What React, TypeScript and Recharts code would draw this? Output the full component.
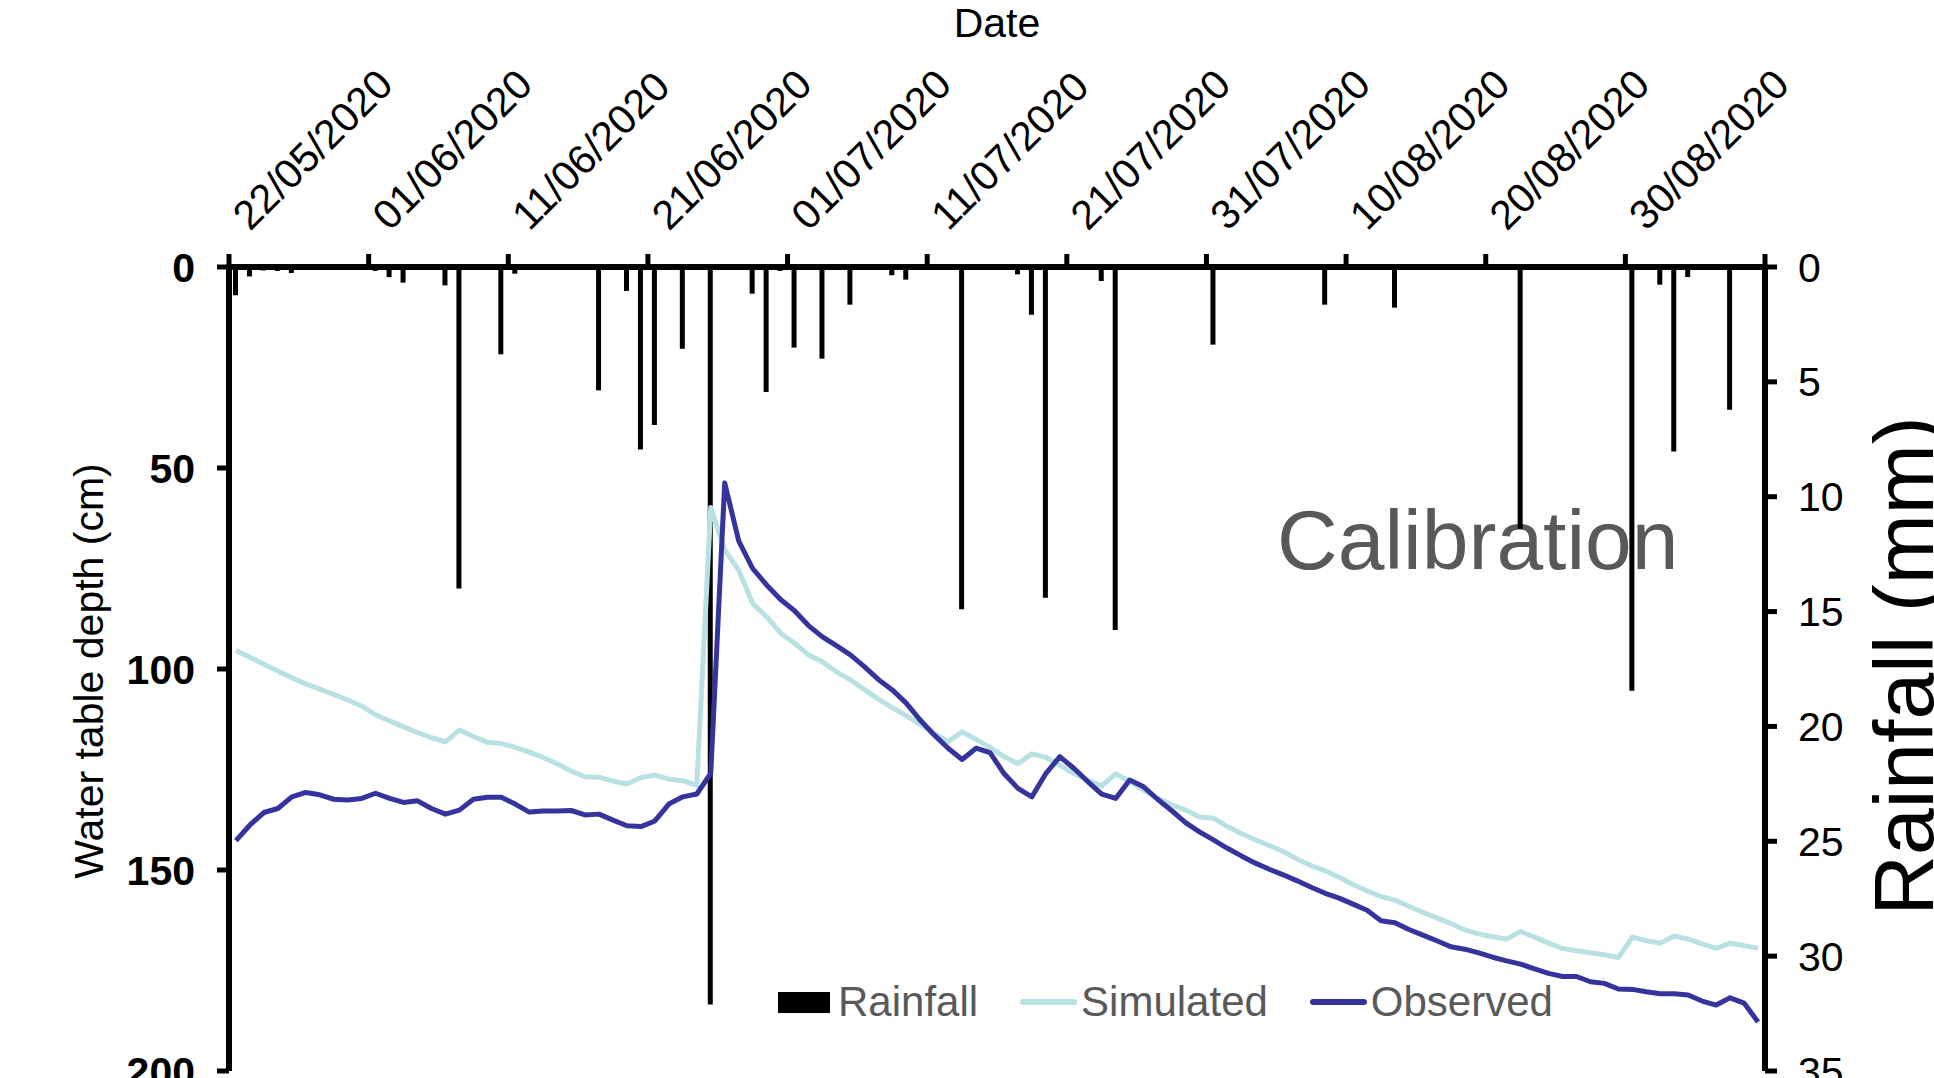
import React from 'react';
import { ComposedChart, Bar, Line, XAxis, YAxis, Legend, Label, Customized } from 'recharts';

const FONT = "'Liberation Sans', Arial, Helvetica, sans-serif";

const START_DATE = Date.UTC(2020, 4, 22);
const DAY_MS = 86400000;
const DAY_COUNT = 110;
const END_DATE = START_DATE + DAY_COUNT * DAY_MS;

const fmtDate = (ts: number) => {
  const d = new Date(ts);
  const dd = String(d.getUTCDate()).padStart(2, '0');
  const mm = String(d.getUTCMonth() + 1).padStart(2, '0');
  return `${dd}/${mm}/${d.getUTCFullYear()}`;
};

// categories: one per day, 22/05/2020 .. 08/09/2020
const dates: string[] = Array.from({ length: DAY_COUNT }, (_, i) => fmtDate(START_DATE + i * DAY_MS));

// Rainfall (mm), daily
const rainfall = [
  1.23, 0.41, 0.15, 0.17, 0.26, 0, 0, 0, 0, 0,
  0.17, 0.44, 0.68, 0, 0, 0.8, 14.0, 0, 0, 3.8,
  0.29, 0, 0, 0, 0, 0, 5.37, 0, 1.04, 7.95,
  6.88, 0, 3.56, 0, 32.1, 0, 0, 1.16, 5.44, 0.17,
  3.51, 0, 3.99, 0, 1.64, 0, 0, 0.36, 0.55, 0,
  0, 0, 14.9, 0, 0, 0, 0.32, 2.08, 14.4, 0,
  0, 0, 0.61, 15.8, 0, 0, 0, 0, 0, 0,
  3.38, 0, 0, 0, 0, 0, 0, 0, 1.64, 0,
  0, 0, 0, 1.77, 0, 0, 0, 0, 0, 0,
  0, 0, 11.4, 0, 0, 0, 0, 0, 0.1, 0,
  18.45, 0, 0.77, 8.03, 0.44, 0, 0, 6.21, 0, 0,
];

// Simulated water table depth (cm)
const simulated = [
  95.4, 97.1, 98.8, 100.5, 102.2, 103.7, 105.0, 106.3, 107.7, 109.2,
  111.4, 112.9, 114.4, 115.8, 117.1, 118.1, 115.2, 116.8, 118.2, 118.5,
  119.5, 120.7, 122.0, 123.6, 125.4, 126.8, 126.9, 127.9, 128.6, 127.0,
  126.4, 127.4, 127.8, 128.9, 59.8, 70.4, 75.4, 83.7, 87.0, 91.1,
  93.6, 96.5, 98.2, 100.7, 102.7, 105.1, 107.5, 109.6, 111.6, 113.8,
  116.0, 118.1, 115.6, 117.5, 119.5, 121.8, 123.5, 121.1, 122.0, 123.9,
  126.0, 127.6, 129.1, 126.1, 128.0, 130.1, 132.2, 133.7, 135.1, 136.8,
  137.1, 139.2, 140.9, 142.5, 143.9, 145.4, 147.3, 148.9, 150.2, 151.8,
  153.6, 155.2, 156.6, 157.5, 159.0, 160.5, 161.9, 163.3, 164.9, 165.9,
  166.6, 167.2, 165.3, 166.7, 168.2, 169.5, 170.1, 170.6, 171.1, 171.8,
  166.7, 167.6, 168.2, 166.4, 167.2, 168.4, 169.5, 168.2, 168.8, 169.5,
];

// Observed water table depth (cm)
const observed = [
  142.7, 138.8, 135.7, 134.7, 131.8, 130.7, 131.3, 132.4, 132.6, 132.2,
  130.9, 132.2, 133.2, 132.8, 134.7, 136.1, 135.1, 132.4, 131.9, 131.9,
  133.6, 135.6, 135.3, 135.3, 135.2, 136.3, 136.1, 137.6, 139.0, 139.2,
  137.8, 133.6, 131.8, 131.1, 126.0, 53.7, 68.1, 75.0, 79.1, 82.7,
  85.5, 89.2, 92.0, 94.2, 96.5, 99.4, 102.6, 105.2, 108.5, 112.7,
  116.4, 119.7, 122.5, 119.7, 120.8, 126.0, 129.7, 131.8, 126.0, 121.8,
  124.7, 128.0, 131.1, 132.2, 127.6, 129.3, 132.4, 135.2, 138.2, 140.5,
  142.5, 144.6, 146.5, 148.3, 149.8, 151.2, 152.7, 154.3, 155.8, 157.0,
  158.5, 160.0, 162.6, 163.1, 164.8, 166.2, 167.6, 169.1, 169.7, 170.6,
  171.7, 172.6, 173.4, 174.6, 175.7, 176.5, 176.5, 177.8, 178.2, 179.6,
  179.7, 180.3, 180.8, 180.8, 181.1, 182.6, 183.6, 181.8, 183.1, 187.8,
];

// axis ticks
const tickDays = [0, 10, 20, 30, 40, 50, 60, 70, 80, 90, 100, 110];
const dateTicks = tickDays.map((d) => START_DATE + d * DAY_MS);
const depthTicks = [0, 50, 100, 150, 200];
const rainTicks = [0, 5, 10, 15, 20, 25, 30, 35];

const legendOrder = ['Rainfall', 'Simulated', 'Observed'];

const COLORS = {
  rain: '#000000',
  simulated: '#B9E0E3',
  observed: '#34349C',
  legendText: '#595959',
  annot: '#595959',
};

// each day is plotted in the middle of its date slot
const data = dates.map((date, i) => ({
  date,
  t: START_DATE + (i + 0.5) * DAY_MS,
  rainfall: rainfall[i],
  simulated: simulated[i],
  observed: observed[i],
}));

const TopTick = (props: any) => {
  const { x, y, payload } = props;
  if (payload.value >= END_DATE) return <g />;
  const ax = x + 21;
  const ay = y;
  return (
    <text
      x={ax}
      y={ay}
      transform={`rotate(-45 ${ax} ${ay})`}
      textAnchor="start"
      fontSize={41}
      fontFamily={FONT}
      fill="#000"
    >
      {fmtDate(payload.value)}
    </text>
  );
};

const DateTitle = (props: any) => {
  const vb = props.viewBox || { x: 229, y: 207, width: 1536, height: 60 };
  return (
    <text x={vb.x + vb.width / 2} y={37} textAnchor="middle" fontSize={41} fontFamily={FONT} fill="#000">
      Date
    </text>
  );
};

const DepthTitle = (props: any) => {
  const vb = props.viewBox || { x: 109, y: 267, width: 120, height: 804 };
  const x = vb.x - 6;
  const y = vb.y + vb.height / 2 + 2;
  return (
    <text x={x} y={y} transform={`rotate(-90 ${x} ${y})`} textAnchor="middle" fontSize={41} fontFamily={FONT} fill="#000">
      Water table depth (cm)
    </text>
  );
};

const RainTitle = (props: any) => {
  const vb = props.viewBox || { x: 1765, y: 267, width: 100, height: 804 };
  const x = vb.x + 168;
  const y = vb.y + vb.height / 2 - 3;
  return (
    <text x={x} y={y} transform={`rotate(-90 ${x} ${y})`} textAnchor="middle" fontSize={84} fontFamily={FONT} fill="#000">
      Rainfall (mm)
    </text>
  );
};

const CalibrationText = () => (
  <text x={1277} y={569} textAnchor="start" fontSize={84} fontFamily={FONT} fill={COLORS.annot}>
    Calibration
  </text>
);

const LegendContent = (props: any) => {
  const payload: any[] = (props.payload || []).slice();
  payload.sort((a, b) => legendOrder.indexOf(a.value) - legendOrder.indexOf(b.value));
  return (
    <div
      style={{
        display: 'flex',
        alignItems: 'center',
        height: 42,
        lineHeight: '42px',
        fontSize: 42,
        fontFamily: FONT,
        color: COLORS.legendText,
        whiteSpace: 'nowrap',
      }}
    >
      {payload.map((entry, i) => (
        <div key={entry.value} style={{ display: 'flex', alignItems: 'center', marginLeft: i === 0 ? 0 : 42 }}>
          {entry.type === 'rect' ? (
            <span style={{ display: 'inline-block', width: 52, height: 21, background: entry.color }} />
          ) : (
            <span style={{ display: 'inline-block', width: 57, height: 6, borderRadius: 3, background: entry.color }} />
          )}
          <span style={{ marginLeft: entry.type === 'rect' ? 8 : 4 }}>{entry.value}</span>
        </div>
      ))}
    </div>
  );
};

export default function App() {
  return (
    <div style={{ position: 'absolute', left: 0, top: 0, width: 1934, height: 1078, overflow: 'hidden', background: '#fff' }}>
      <ComposedChart width={1934} height={1078} data={data} margin={{ top: 207, right: 69, bottom: 7, left: 109 }}>
        <XAxis
          xAxisId="date"
          orientation="top"
          type="number"
          dataKey="t"
          domain={[START_DATE, END_DATE]}
          allowDataOverflow
          ticks={dateTicks}
          interval={0}
          height={60}
          tick={<TopTick />}
          tickSize={13}
          tickMargin={22}
          axisLine={{ stroke: '#000', strokeWidth: 6 }}
          tickLine={{ stroke: '#000', strokeWidth: 5 }}
        >
          <Label content={<DateTitle />} />
        </XAxis>
        <YAxis
          yAxisId="depth"
          orientation="left"
          type="number"
          domain={[0, 200]}
          reversed
          allowDataOverflow
          ticks={depthTicks}
          interval={0}
          width={120}
          tickSize={12}
          tickMargin={22}
          tick={{ fontSize: 41, fontWeight: 'bold', fill: '#000', fontFamily: FONT }}
          axisLine={{ stroke: '#000', strokeWidth: 6 }}
          tickLine={{ stroke: '#000', strokeWidth: 5 }}
        >
          <Label content={<DepthTitle />} />
        </YAxis>
        <YAxis
          yAxisId="rain"
          orientation="right"
          type="number"
          domain={[0, 35]}
          reversed
          allowDataOverflow
          ticks={rainTicks}
          interval={0}
          width={100}
          tickSize={12}
          tickMargin={21}
          tick={{ fontSize: 41, fill: '#000', fontFamily: FONT }}
          axisLine={{ stroke: '#000', strokeWidth: 6 }}
          tickLine={{ stroke: '#000', strokeWidth: 5 }}
        >
          <Label content={<RainTitle />} />
        </YAxis>
        <Line
          xAxisId="date"
          yAxisId="depth"
          name="Simulated"
          dataKey="simulated"
          type="linear"
          stroke={COLORS.simulated}
          strokeWidth={5}
          strokeLinejoin="round"
          dot={false}
          activeDot={false}
          legendType="line"
          isAnimationActive={false}
        />
        <Line
          xAxisId="date"
          yAxisId="depth"
          name="Observed"
          dataKey="observed"
          type="linear"
          stroke={COLORS.observed}
          strokeWidth={5}
          strokeLinejoin="round"
          dot={false}
          activeDot={false}
          legendType="line"
          isAnimationActive={false}
        />
        <Bar
          xAxisId="date"
          yAxisId="rain"
          name="Rainfall"
          dataKey="rainfall"
          fill={COLORS.rain}
          barSize={5}
          legendType="rect"
          isAnimationActive={false}
        />
        <Customized component={CalibrationText} />
        <Legend
          layout="horizontal"
          verticalAlign="middle"
          align="center"
          wrapperStyle={{ left: 778, top: 981, width: 900, height: 42 }}
          content={<LegendContent />}
        />
      </ComposedChart>
    </div>
  );
}
